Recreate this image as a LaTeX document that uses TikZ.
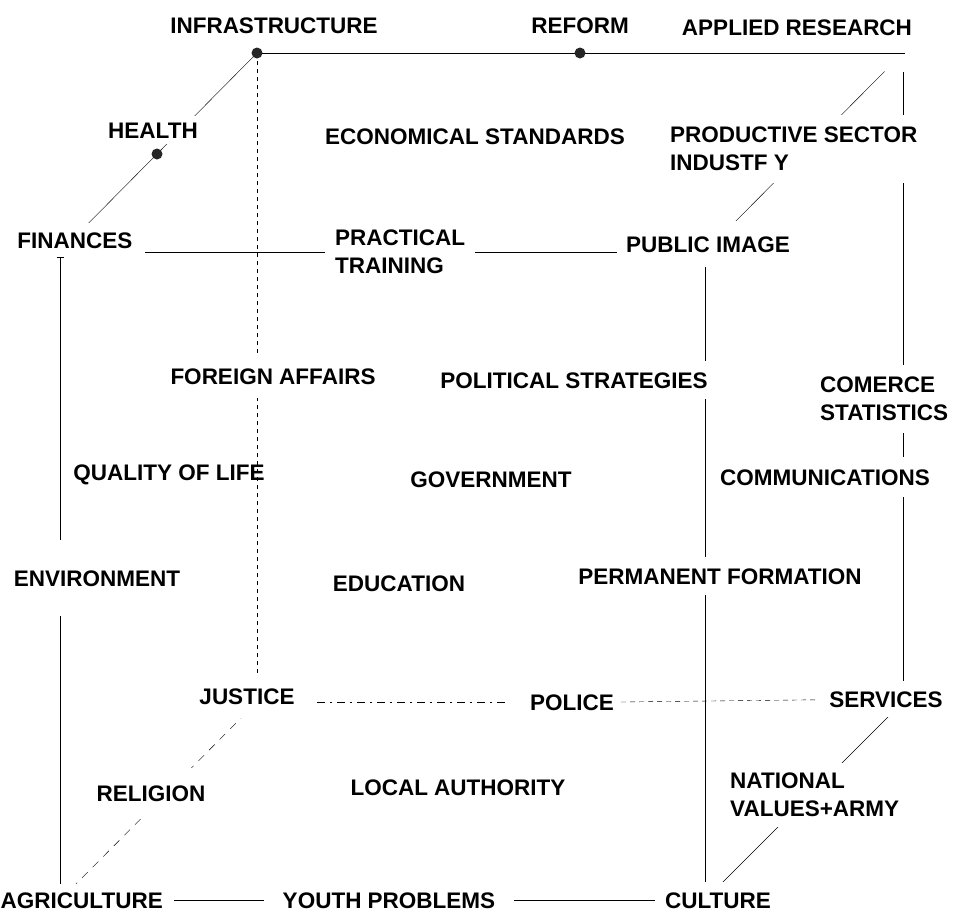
\documentclass[tikz,border=0pt]{standalone}
\usepackage{fontspec}
\setmainfont{Liberation Sans}
\usetikzlibrary{arrows.meta,backgrounds}
\tikzset{
lbl/.style={fill=white,inner sep=6pt,font=\bfseries\fontsize{22.5}{28}\selectfont},
one/.style={lbl,text height=16pt,text depth=0pt},
two/.style={lbl,align=left,anchor=west},
wire/.style={line width=1.4pt,black!85},
}
\begin{document}
\begin{tikzpicture}[x=1pt,y=-1pt]
\useasboundingbox (0,0) rectangle (958,911);
\coordinate (bTL) at (257,53);
\coordinate (bTR) at (903,53);
\coordinate (fTL) at (60,252);
\coordinate (fTR) at (705,252);
\coordinate (bBL) at (257,702);
\coordinate (bBR) at (903,702);
\coordinate (fBL) at (60,900);
\coordinate (fBR) at (705,900);
\coordinate (dRef) at (580,53);
\coordinate (dHea) at (157,154);
\node[one] (infra) at (274,25) {INFRASTRUCTURE};
\node[one] (reform) at (580,25) {REFORM};
\node[one] (appres) at (797,27) {APPLIED RESEARCH};
\node[one] (health) at (153,130) {HEALTH};
\node[one] (econ) at (475,136) {ECONOMICAL STANDARDS};
\node[two,inner sep=12pt] (prod) at (658,149) {PRODUCTIVE SECTOR\\INDUSTF Y};
\node[one,inner xsep=12pt,inner ysep=9pt] (fin) at (75,240) {FINANCES};
\node[two,inner xsep=10pt] (prac) at (325,252) {PRACTICAL\\TRAINING};
\node[one,inner xsep=9pt,inner ysep=15pt] (pub) at (708,244) {PUBLIC IMAGE};
\node[one,inner ysep=14pt] (foreign) at (273,376) {FOREIGN AFFAIRS};
\node[one,inner ysep=11pt] (polstr) at (574,380) {POLITICAL STRATEGIES};
\node[two,inner sep=12pt] (comst) at (808,399) {COMERCE\\STATISTICS};
\node[one,fill=none] (qol) at (169,472) {QUALITY OF LIFE};
\node[one] (gov) at (491,479) {GOVERNMENT};
\node[one,inner ysep=12pt] (comm) at (825,477) {COMMUNICATIONS};
\node[one,inner ysep=30pt] (env) at (97,578) {ENVIRONMENT};
\node[one] (edu) at (399,583) {EDUCATION};
\node[one,inner ysep=11pt] (perm) at (720,576) {PERMANENT FORMATION};
\node[one,inner xsep=18pt,inner ysep=14pt] (just) at (247,696) {JUSTICE};
\node[one,inner xsep=7pt] (police) at (572,702) {POLICE};
\node[one,inner sep=10pt] (serv) at (886,699) {SERVICES};
\node[one,inner ysep=17pt] (rel) at (151,793) {RELIGION};
\node[one] (local) at (458,787) {LOCAL AUTHORITY};
\node[two,inner ysep=10pt] (natv) at (724,795) {NATIONAL\\VALUES+ARMY};
\node[one,anchor=east,inner xsep=11pt,inner ysep=8pt] (agri) at (174,900) {AGRICULTURE};
\node[one,inner xsep=19pt] (youth) at (389,900) {YOUTH PROBLEMS};
\node[one,inner sep=10pt] (cult) at (718,900) {CULTURE};
\begin{scope}[on background layer,wire]
\draw (bTL) -- ([xshift=2pt]bTR);
\draw (bTL) -- (fTL);
\draw[shorten <=26pt] (bTR) -- (fTR);
\draw (fTL) -- (fTR);
\draw[{Bar[width=7pt]}-] (fTL |- fin.south) -- (fBL);
\draw (fTR) -- (fBR);
\draw[shorten <=19pt] (bTR) -- (bBR);
\draw (fBL) -- (fBR);
\draw (bBR) -- (fBR);
\draw[dash pattern=on 4pt off 4pt] (bTL) -- (bBL);
\draw[dash pattern=on 8pt off 7pt] (bBL) -- (fBL);
\draw[dash pattern=on 8pt off 5pt on 2pt off 5pt,shorten >=18pt] (bBL) -- (police.west);
\draw[dash pattern=on 5pt off 4pt] (police.east) -- (serv);
\end{scope}
\foreach \p in {bTL,dRef,dHea}
\fill[black!85] (\p) circle (5.5pt);
\end{tikzpicture}
\end{document}
